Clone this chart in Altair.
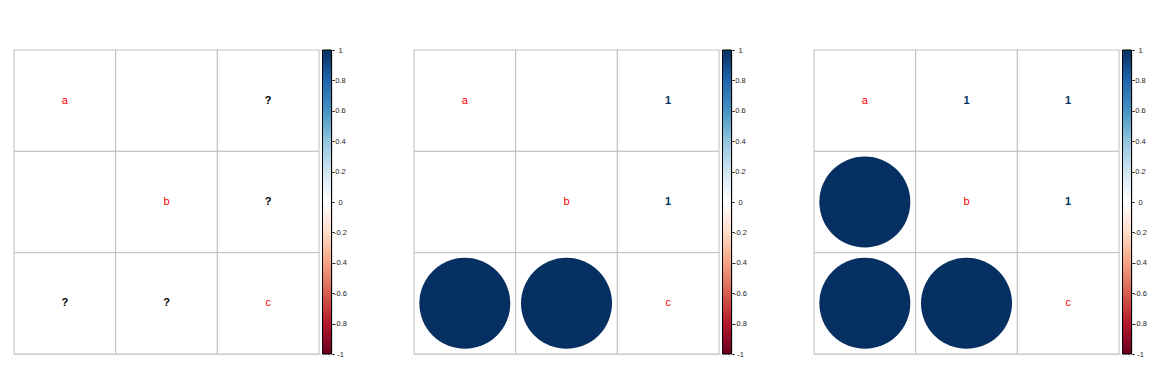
import altair as alt
import pandas as pd

# ---- data -------------------------------------------------------------
labels = ["a", "b", "c"]
# None = empty cell, "NA" = missing value shown as "?"
corr_1 = [[1, None, "NA"], [None, 1, "NA"], ["NA", "NA", 1]]
corr_2 = [[1, None, 1], [None, 1, 1], [1, 1, 1]]
corr_3 = [[1, 1, 1], [1, 1, 1], [1, 1, 1]]
na_label = "?"
rdbu = ["#67001F", "#B2182B", "#D6604D", "#F4A582", "#FDDBC7", "#FFFFFF",
        "#D1E5F0", "#92C5DE", "#4393C3", "#2166AC", "#053061"]
rdbu_domain = [-1, -0.8, -0.6, -0.4, -0.2, 0, 0.2, 0.4, 0.6, 0.8, 1]
legend_ticks = [-1, -0.8, -0.6, -0.4, -0.2, 0, 0.2, 0.4, 0.6, 0.8, 1]

# ---- layout constants --------------------------------------------------
GRID_W = 305
CELL = GRID_W / 3
PLOT_W = 318          # grid + gap + colour bar
PLOT_H = 304
CB_X0 = 308.5 / CELL  # colour bar left (in cell units)
CB_X1 = 317.5 / CELL  # colour bar right
CIRCLE_SIZE = 91 * 91  # Vega circle: diameter = sqrt(size)
FONT = "Liberation Sans"

color_scale = alt.Scale(domain=rdbu_domain, range=rdbu, interpolate="rgb")
x_scale = alt.Scale(domain=[0, PLOT_W / CELL], nice=False, zero=False)
y_scale = alt.Scale(domain=[0, 3], nice=False, zero=False, reverse=True)


def build_df(mat):
    recs = []
    for i in range(3):
        for j in range(3):
            v = mat[i][j]
            if i == j:
                kind, val, txt = "diag", 0.0, labels[i]
            elif v is None:
                kind, val, txt = "blank", 0.0, ""
            elif v == "NA":
                kind, val, txt = "na", 0.0, na_label
            elif j > i:
                kind, val, txt = "num", float(v), f"{v:g}"
            else:
                kind, val, txt = "circle", float(v), ""
            recs.append(dict(row=i, col=j, kind=kind, value=val, absval=abs(val), txt=txt,
                             x0=j, x1=j + 1, xc=j + 0.5, y0=i, y1=i + 1, yc=i + 0.5))
    return pd.DataFrame(recs)


def panel(mat):
    df = build_df(mat)
    base = alt.Chart(df)
    grid = base.mark_rect(fill="white", stroke="#BEBEBE", strokeWidth=1).encode(
        x=alt.X("x0:Q", scale=x_scale, axis=None),
        x2="x1:Q",
        y=alt.Y("y0:Q", scale=y_scale, axis=None),
        y2="y1:Q",
    )
    circles = base.transform_filter(alt.datum.kind == "circle").mark_point(
        shape="circle", filled=True, opacity=1, strokeWidth=0
    ).encode(
        x=alt.X("xc:Q", scale=x_scale, axis=None),
        y=alt.Y("yc:Q", scale=y_scale, axis=None),
        size=alt.Size("absval:Q", scale=alt.Scale(domain=[0, 1], range=[0, CIRCLE_SIZE]), legend=None),
        color=alt.Color("value:Q", scale=color_scale, legend=None),
    )
    nums = base.transform_filter(alt.datum.kind == "num").mark_text(
        font=FONT, fontSize=11, fontWeight="bold", baseline="middle", align="center"
    ).encode(
        x=alt.X("xc:Q", scale=x_scale, axis=None),
        y=alt.Y("yc:Q", scale=y_scale, axis=None),
        text="txt:N",
        color=alt.Color("value:Q", scale=color_scale, legend=None),
    )
    nas = base.transform_filter(alt.datum.kind == "na").mark_text(
        font=FONT, fontSize=11, fontWeight="bold", baseline="middle", align="center", color="black"
    ).encode(
        x=alt.X("xc:Q", scale=x_scale, axis=None),
        y=alt.Y("yc:Q", scale=y_scale, axis=None),
        text="txt:N",
    )
    diag = base.transform_filter(alt.datum.kind == "diag").mark_text(
        font=FONT, fontSize=11, baseline="middle", align="center", color="#FF0000"
    ).encode(
        x=alt.X("xc:Q", scale=x_scale, axis=None),
        y=alt.Y("yc:Q", scale=y_scale, axis=None),
        text="txt:N",
    )
    gradient = {
        "gradient": "linear", "x1": 0, "y1": 1, "x2": 0, "y2": 0,
        "stops": [{"offset": (d + 1) / 2, "color": c} for d, c in zip(rdbu_domain, rdbu)],
    }
    cbar = alt.Chart(pd.DataFrame({"k": [0]})).mark_rect(stroke="black", strokeWidth=1).encode(
        x=alt.XDatum(CB_X0, scale=x_scale, axis=None),
        x2=alt.X2Datum(CB_X1),
        y=alt.YDatum(-1, scale=alt.Scale(domain=[-1, 1], nice=False, zero=False),
                     axis=alt.Axis(orient="right", values=legend_ticks, grid=False, domain=False,
                                   ticks=True, tickSize=2, tickColor="black", tickWidth=1,
                                   labelFont=FONT, labelFontSize=7.5, labelColor="#222222",
                                   labelAlign="center", labelPadding=6, labelBaseline="middle",
                                   labelFlush=False, labelOverlap=False, title=None,
                                   labelExpr="datum.value < 0 ? '-' + format(-datum.value, '~g') : format(datum.value, '~g')")),
        y2=alt.Y2Datum(1),
        color=alt.value(gradient),
    )
    return alt.layer(grid, circles, nums, nas, diag, cbar).resolve_scale(y="independent").properties(
        width=PLOT_W, height=PLOT_H
    )


chart = alt.hconcat(panel(corr_1), panel(corr_2), panel(corr_3), spacing=82, bounds="flush").properties(
    padding={"left": 13, "top": 45, "right": 5, "bottom": 5}
).configure_view(stroke=None).configure(background="white")

chart.save("out.html", embed_options={"renderer": "svg", "actions": False})
